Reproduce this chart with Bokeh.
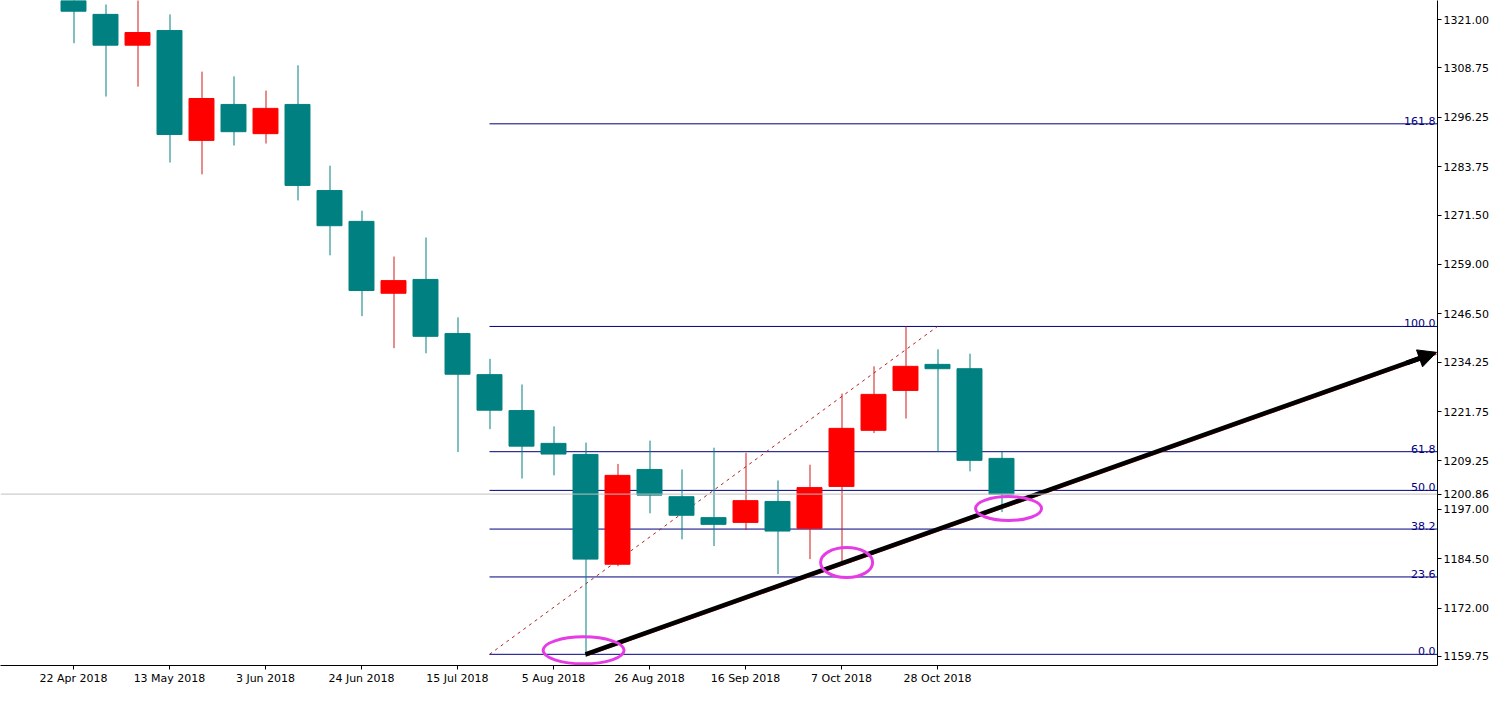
from bokeh.plotting import figure
from bokeh.models import (Range1d, FixedTicker, Arrow, NormalHead, Span,
                          ColumnDataSource, PrintfTickFormatter)
from bokeh.embed import file_html
from bokeh.resources import INLINE
from bokeh.core.properties import value

# ---------------- data ----------------
weeks = ["22 Apr 2018", "29 Apr 2018", "6 May 2018", "13 May 2018", "20 May 2018",
         "27 May 2018", "3 Jun 2018", "10 Jun 2018", "17 Jun 2018", "24 Jun 2018",
         "1 Jul 2018", "8 Jul 2018", "15 Jul 2018", "22 Jul 2018", "29 Jul 2018",
         "5 Aug 2018", "12 Aug 2018", "19 Aug 2018", "26 Aug 2018", "2 Sep 2018",
         "9 Sep 2018", "16 Sep 2018", "23 Sep 2018", "30 Sep 2018", "7 Oct 2018",
         "14 Oct 2018", "21 Oct 2018", "28 Oct 2018", "4 Nov 2018", "11 Nov 2018"]
opens = [1335.5, 1322.3, 1314.5, 1318.2, 1290.4, 1299.5, 1292.1, 1299.5, 1277.7, 1269.9,
         1251.7, 1255.2, 1241.5, 1231.1, 1222.0, 1213.7, 1210.9, 1183.1, 1207.1, 1200.2,
         1194.9, 1193.7, 1199.0, 1192.2, 1202.8, 1217.0, 1227.1, 1233.7, 1232.6, 1209.9]
highs = [1336.5, 1324.8, 1326.5, 1322.3, 1307.8, 1306.6, 1303.0, 1309.4, 1284.0, 1272.6,
         1261.0, 1265.8, 1245.6, 1235.1, 1228.6, 1218.0, 1213.9, 1208.5, 1214.4, 1207.1,
         1212.6, 1211.3, 1204.3, 1208.3, 1226.3, 1233.2, 1243.3, 1237.5, 1236.4, 1211.6]
lows = [1315.0, 1301.5, 1304.0, 1284.8, 1281.8, 1289.1, 1289.6, 1275.2, 1261.3, 1245.9,
        1237.8, 1236.5, 1211.5, 1217.3, 1204.8, 1205.6, 1160.3, 1182.6, 1196.0, 1189.4,
        1187.7, 1191.8, 1180.6, 1184.4, 1183.5, 1216.3, 1220.0, 1211.6, 1206.6, 1196.3]
closes = [1323.1, 1314.5, 1317.7, 1291.9, 1301.0, 1292.6, 1298.5, 1279.0, 1268.8, 1252.4,
          1254.9, 1240.8, 1231.2, 1222.1, 1213.0, 1211.0, 1184.4, 1205.6, 1200.6, 1195.5,
          1193.2, 1199.2, 1191.5, 1202.5, 1217.5, 1226.1, 1233.2, 1232.6, 1209.4, 1200.86]

date_ticks = ["22 Apr 2018", "13 May 2018", "3 Jun 2018", "24 Jun 2018", "15 Jul 2018",
              "5 Aug 2018", "26 Aug 2018", "16 Sep 2018", "7 Oct 2018", "28 Oct 2018"]
price_ticks = [1321.00, 1308.75, 1296.25, 1283.75, 1271.50, 1259.00, 1246.50,
               1234.25, 1221.75, 1209.25, 1197.00, 1184.50, 1172.00, 1159.75]

current_price = 1200.86

fib_low = 1160.3
fib_high = 1243.3
fib_ratios = [0.0, 23.6, 38.2, 50.0, 61.8, 100.0, 161.8]
fib_start_week = "22 Jul 2018"
fib_end_week = "28 Oct 2018"

trend_start = (16, 1160.3)
trend_end = (44.25, 1241.5)

circle_x = [15.94, 24.16, 29.22]
circle_y = [1161.3, 1183.55, 1197.2]
circle_w = [81, 52, 66]
circle_h = [27, 30, 24]

# ---------------- figure ----------------
FW, FH = 1437, 665
X_START, X_END = -2.28125, 42.625
Y_START, Y_END = 1157.47, 1325.81
SX = FW / (X_END - X_START)      # px per week

p = figure(frame_width=FW, frame_height=FH, output_backend="svg", toolbar_location=None,
           x_range=Range1d(X_START, X_END), y_range=Range1d(Y_START, Y_END),
           y_axis_location="right", min_border_left=0, min_border_top=0,
           min_border_right=0, min_border_bottom=0)
p.background_fill_color = "white"
p.border_fill_color = "white"
p.outline_line_color = None
p.grid.visible = False

FONT = "DejaVu Sans"
for ax in (p.xaxis[0], p.yaxis[0]):
    ax.axis_line_color = "black"
    ax.major_tick_line_color = "black"
    ax.major_tick_out = 4
    ax.major_tick_in = 0
    ax.minor_tick_line_color = None
    ax.major_label_text_font = FONT
    ax.major_label_text_font_size = "11px"
    ax.major_label_text_color = "black"
    ax.major_label_standoff = 2

idx = list(range(len(weeks)))
p.xaxis.ticker = FixedTicker(ticks=[weeks.index(d) for d in date_ticks])
p.xaxis.major_label_overrides = {weeks.index(d): d for d in date_ticks}
p.xaxis.major_label_text_align = "left"
p.yaxis.ticker = FixedTicker(ticks=sorted(price_ticks + [current_price]))
p.yaxis.formatter = PrintfTickFormatter(format="%.2f")

# current price line
p.add_layout(Span(location=current_price, dimension="width", line_color="#C0C0C0", line_width=1))

# fibonacci
fs = weeks.index(fib_start_week)
fe = weeks.index(fib_end_week)
levels = [fib_low + r / 100.0 * (fib_high - fib_low) for r in fib_ratios]
p.segment(x0=[fs] * len(levels), y0=levels, x1=[X_END] * len(levels), y1=levels,
          line_color="#000080", line_width=1)
p.text(x=[X_END - 0.06] * len(levels), y=levels, text=[f"{r:.1f}" for r in fib_ratios],
       text_align="right", text_baseline="bottom", text_color="#000080",
       text_font=value(FONT), text_font_size="11px", y_offset=1)
p.line(x=[fs, fe], y=[fib_low, fib_high], line_color="#B22222", line_width=1, line_dash="3 4")

# candles (wicks nudged half a pixel so the 1px line is crisp)
half = 0.5 / SX
bull = [c >= o for o, c in zip(opens, closes)]
src = ColumnDataSource(dict(
    x=idx, xw=[i + half for i in idx],
    top=[max(o, c) for o, c in zip(opens, closes)],
    bottom=[min(o, c) for o, c in zip(opens, closes)],
    high=highs, low=lows,
    color=["#FF0000" if b else "#008080" for b in bull],
    wick=["#D01818" if b else "#008080" for b in bull]))
p.segment(x0="xw", y0="high", x1="xw", y1="low", line_color="wick", line_width=1, source=src)
p.vbar(x="x", width=0.78, top="top", bottom="bottom", fill_color="color",
       line_color="color", line_width=1, source=src)

# trendline: red underlay + black line + arrow head at the chart's right edge
slope = (trend_end[1] - trend_start[1]) / (trend_end[0] - trend_start[0])
tip_x = X_END - 1.0 / SX
tip_y = trend_start[1] + slope * (tip_x - trend_start[0])
p.line(x=[trend_start[0], tip_x], y=[trend_start[1] - 0.45, tip_y - 0.45],
       line_color="#C01E1E", line_width=1.5)
p.line(x=[trend_start[0], tip_x - 10.0 / SX],
       y=[trend_start[1], trend_start[1] + slope * (tip_x - 10.0 / SX - trend_start[0])],
       line_color="black", line_width=4.5)
p.add_layout(Arrow(end=NormalHead(size=18, fill_color="black", line_color="black", line_width=1),
                   x_start=tip_x - 30.0 / SX,
                   y_start=trend_start[1] + slope * (tip_x - 30.0 / SX - trend_start[0]),
                   x_end=tip_x, y_end=tip_y,
                   line_color="black", line_width=5))

# magenta ellipses
p.ellipse(x=circle_x, y=circle_y, width=circle_w, height=circle_h,
          width_units="screen", height_units="screen",
          fill_color=None, line_color="#E63CE6", line_width=3)

open("out.html", "w").write(file_html(p, INLINE))
